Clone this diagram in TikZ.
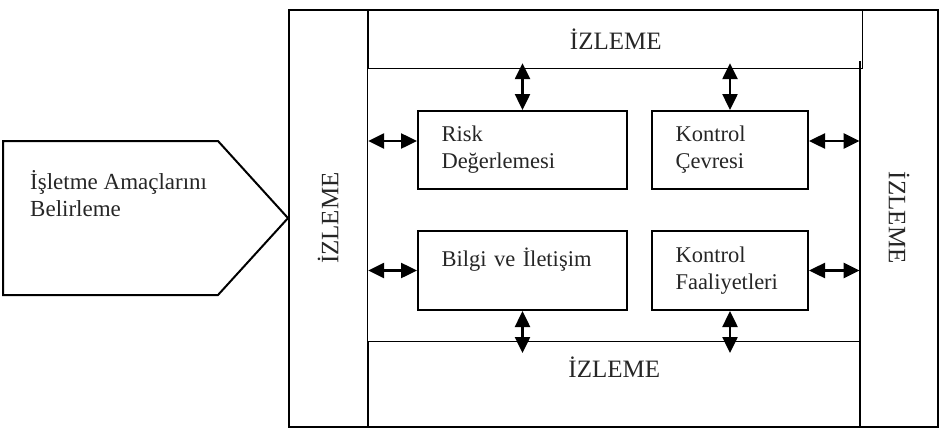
\documentclass[tikz,border=0pt]{standalone}
\usepackage{fontspec}
\setmainfont{Liberation Serif}
\usetikzlibrary{arrows.meta,positioning}

\begin{document}
\begin{tikzpicture}[x=1pt, y=-1pt,
    band/.style={draw, line width=1.2pt, inner sep=0pt},
    izleme/.style={inner sep=0pt, text=black!85, font=\fontsize{25}{30}\selectfont},
    part/.style={draw, line width=2pt, inner xsep=23.5pt, inner ysep=0pt, align=left, text=black!85, font=\fontsize{22.5}{27}\selectfont},
    link/.style={{Triangle[length=16pt,width=15pt]}-{Triangle[length=16pt,width=15pt]}, line width=2.5pt}]

    \useasboundingbox (0,0) rectangle (950,431);

    % frame with the monitoring columns and bands
    \node [draw, line width=2pt, inner sep=0pt, minimum width=649pt, minimum height=417pt] (frame) at (613.5,218.5) {};
    \node [band, anchor=north west, minimum width=79pt, minimum height=417pt] (leftcol) at (frame.north west) {};
    \node [inner sep=0pt, anchor=north east, minimum width=79pt, minimum height=417pt] (rightcol) at (frame.north east) {};
    \node [band, izleme, anchor=north west, minimum width=494pt, minimum height=59pt] (topband) at (leftcol.north east) {İZLEME};
    \node [band, anchor=south west, minimum width=491pt, minimum height=85pt] (botband) at (leftcol.south east) {};
    \draw [line width=2pt] ([yshift=-52pt]rightcol.north west) -- (rightcol.south west);

    \node [izleme, rotate=90] (leftlbl) at (leftcol) {İZLEME};
    \node [izleme, rotate=-90] (rightlbl) at (rightcol) {İZLEME};
    \node [izleme] (botlbl) at ([yshift=-26pt]botband.north) {İZLEME};

    % components
    \node [part, minimum width=209pt, minimum height=78pt, text width=162pt] (risk) at (522.5,150) {Risk\\Değerlemesi};
    \node [part, minimum width=156pt, minimum height=78pt, text width=109pt] (cevre) at (730,150) {Kontrol\\Çevresi};
    \node [part, minimum width=209pt, minimum height=79pt, text width=162pt] (bilgi) at (522.5,270.5) {Bilgi ve İletişim\\\mbox{}};
    \node [part, minimum width=156pt, minimum height=79pt, text width=109pt] (faal) at (730,270.5) {Kontrol\\Faaliyetleri};

    % objectives
    \draw [line width=2pt, line join=miter] (3,141) -- (218,141) -- (leftcol.west) -- (218,295) -- (3,295) -- cycle;
    \node [anchor=north west, inner sep=0pt, align=left, text=black!85, font=\fontsize{23}{27}\selectfont] (aim) at (30,170) {İşletme Amaçlarını\\Belirleme};

    % Arrows
    \coordinate (riskin) at ([yshift=9pt]risk.west);
    \coordinate (cevreout) at ([yshift=9pt]cevre.east);
    \draw [link, shorten <=-6pt] (risk.north |- topband.south) -- (risk.north);
    \draw [link, shorten <=-6pt] (cevre.north |- topband.south) -- (cevre.north);
    \draw [link, shorten >=-12pt] (bilgi.south) -- (bilgi.south |- botband.north);
    \draw [link, shorten >=-12pt] (faal.south) -- (faal.south |- botband.north);
    \draw [link] (leftcol.east |- riskin) -- (riskin);
    \draw [link] (leftcol.east |- bilgi.west) -- (bilgi.west);
    \draw [link] (cevreout) -- (rightcol.west |- cevreout);
    \draw [link] (faal.east) -- (rightcol.west |- faal.east);
\end{tikzpicture}
\end{document}
